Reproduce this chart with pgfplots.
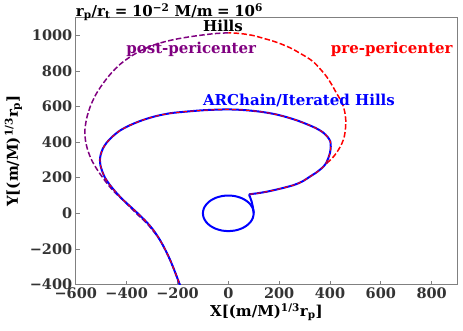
\documentclass[border=0pt]{standalone}
\usepackage{fontspec}
\setmainfont{DejaVu Serif}
\usepackage{pgfplots}
\pgfplotsset{compat=1.18}
\definecolor{spine}{RGB}{128,128,128}
\definecolor{ticktxt}{RGB}{51,51,51}
\definecolor{mplpurple}{RGB}{128,0,128}
\newcommand{\tickfont}{\fontsize{14.5}{16}\selectfont\bfseries}
\newcommand{\plotfont}{\fontsize{15}{17}\selectfont\bfseries}
\newcommand{\eqsign}{\hspace{4.5pt}=\hspace{4.5pt}}
\begin{document}
\begin{tikzpicture}
\path[use as bounding box] (-75.8pt,-45.5pt) rectangle (387.2pt,284.5pt);
\begin{axis}[
  name=ax, scale only axis, width=381.3pt, height=267pt,
  xmin=-600, xmax=900, ymin=-400, ymax=1100,
  axis line style={draw=spine, line width=0.8pt},
  tick style={draw=spine, line width=0.8pt},
  tick align=inside, major tick length=4pt,
  xtick pos=left, ytick pos=left,
  xtick={-600,-400,-200,0,200,400,600,800},
  xticklabels={−600,−400,−200,0,200,400,600,800},
  ytick={-400,-200,0,200,400,600,800,1000},
  yticklabels={−400,−200,0,200,400,600,800,1000},
  ticklabel style={font=\tickfont, text=ticktxt},
  xlabel={X[(m/M)\textsuperscript{1/3}r\textsubscript{p}]},
  ylabel={Y[(m/M)\textsuperscript{1/3}r\textsubscript{p}]},
  label style={font=\plotfont, text=black},
  xlabel style={at={(axis description cs:0.5,-0.1199)}, anchor=base},
  ylabel style={at={(axis description cs:-0.1521,0.5)}, anchor=base},
  hills/.style={line width=1.5pt, dash pattern=on 5.5pt off 2.4pt},
  every axis plot/.append style={line join=round},
]
% Hills, post-pericenter
\addplot[mplpurple, hills, smooth] coordinates {
  (0,1014) (-50,1010) (-100,1002) (-150,992) (-200,980) (-250,964) (-300,942)
  (-345,913) (-385,880) (-425,838) (-462,785) (-495,725) (-522,665)
  (-543,600) (-557,535) (-564,470) (-562,410) (-553,355) (-538,300)
  (-518,250) (-494,200) (-470,155) (-445,115) (-415,75) (-387,35)
  (-355,-10) (-321,-56) (-295,-100) (-269,-150) (-248,-205) (-229,-262)
  (-211,-325) (-193,-393) (-180,-440)};
% Hills, pre-pericenter
\addplot[red, hills, smooth] coordinates {
  (387,281) (412,315) (433,356) (447,393) (456,430) (461,477) (462,524)
  (458,570) (450,610) (438,645) (426,674) (408,720) (387,767) (362,810)
  (334,852) (305,880) (282,899) (250,925) (210,950) (175,968) (138,983)
  (100,998) (59,1008) (30,1012) (0,1014)};
% ARChain
\addplot[blue, line width=2pt, smooth] coordinates {
  (100,0) (96.6,25.9) (86.6,50) (70.7,70.7) (50,86.6) (25.9,96.6) (0,100)
  (-25.9,96.6) (-50,86.6) (-70.7,70.7) (-86.6,50) (-96.6,25.9) (-100,0)
  (-96.6,-25.9) (-86.6,-50) (-70.7,-70.7) (-50,-86.6) (-25.9,-96.6) (0,-100)
  (25.9,-96.6) (50,-86.6) (70.7,-70.7) (86.6,-50) (96.6,-25.9) (100,0)};
\addplot[blue, line width=2pt] coordinates {
  (100,0) (99,15) (96,40) (92,65) (86,90) (82,102) (84,107) (95,109) (112,112)};
\addplot[blue, line width=2pt, smooth] coordinates {
  (112,112) (150,121) (203,138) (256,158) (290,178) (321,206) (350,233)
  (374,262) (386,285) (393,309) (400,340) (403,375) (401,405) (390,430)
  (372,455) (345,478) (310,500) (270,522) (225,542) (180,558) (125,571)
  (70,579) (20,583) (-30,583) (-98,579) (-160,572) (-229,562) (-290,544)
  (-340,522) (-385,496) (-425,466) (-455,432) (-478,398) (-493,365)
  (-502,330) (-505,300) (-503,270) (-497,240) (-487,205) (-474,175)
  (-458,145) (-439,113) (-415,77) (-387,40) (-355,-2) (-321,-50)
  (-293,-98) (-269,-150) (-248,-205) (-229,-262) (-211,-325) (-193,-393)
  (-180,-440)};
% Iterated Hills
\addplot[red, line width=1pt, dash pattern=on 4pt off 3pt, smooth] coordinates {
  (84,107) (95,109) (112,112) (150,121) (203,138) (256,158) (290,178)
  (321,206) (350,233) (374,262) (386,285) (393,309) (400,340) (403,375)
  (401,405) (390,430) (372,455) (345,478) (310,500) (270,522) (225,542)
  (180,558) (125,571) (70,579) (20,583) (-30,583) (-98,579) (-160,572)
  (-229,562) (-290,544) (-340,522) (-385,496) (-425,466) (-455,432)
  (-478,398) (-493,365) (-502,330) (-505,300) (-503,270) (-497,240)
  (-487,205) (-474,175) (-458,145) (-439,113) (-415,77) (-387,40)
  (-355,-2) (-321,-50) (-293,-98) (-269,-150) (-248,-205) (-229,-262)
  (-211,-325) (-193,-393) (-180,-440)};
\node[font=\plotfont, anchor=base] at (axis cs:-21,1020) {Hills};
\node[font=\plotfont, text=mplpurple, anchor=base] at (axis cs:-146,900) {post-pericenter};
\node[font=\plotfont, text=red, anchor=base] at (axis cs:643,900) {pre-pericenter};
\node[font=\plotfont, text=blue, anchor=base] at (axis cs:278,603) {ARChain/Iterated Hills};
\end{axis}
\node[font=\plotfont, anchor=base west, inner sep=0pt] at ([yshift=1pt]ax.north west)
  {r\textsubscript{p}/r\textsubscript{t}\eqsign10\textsuperscript{−2} M/m\eqsign10\textsuperscript{6}};
\end{tikzpicture}
\end{document}
